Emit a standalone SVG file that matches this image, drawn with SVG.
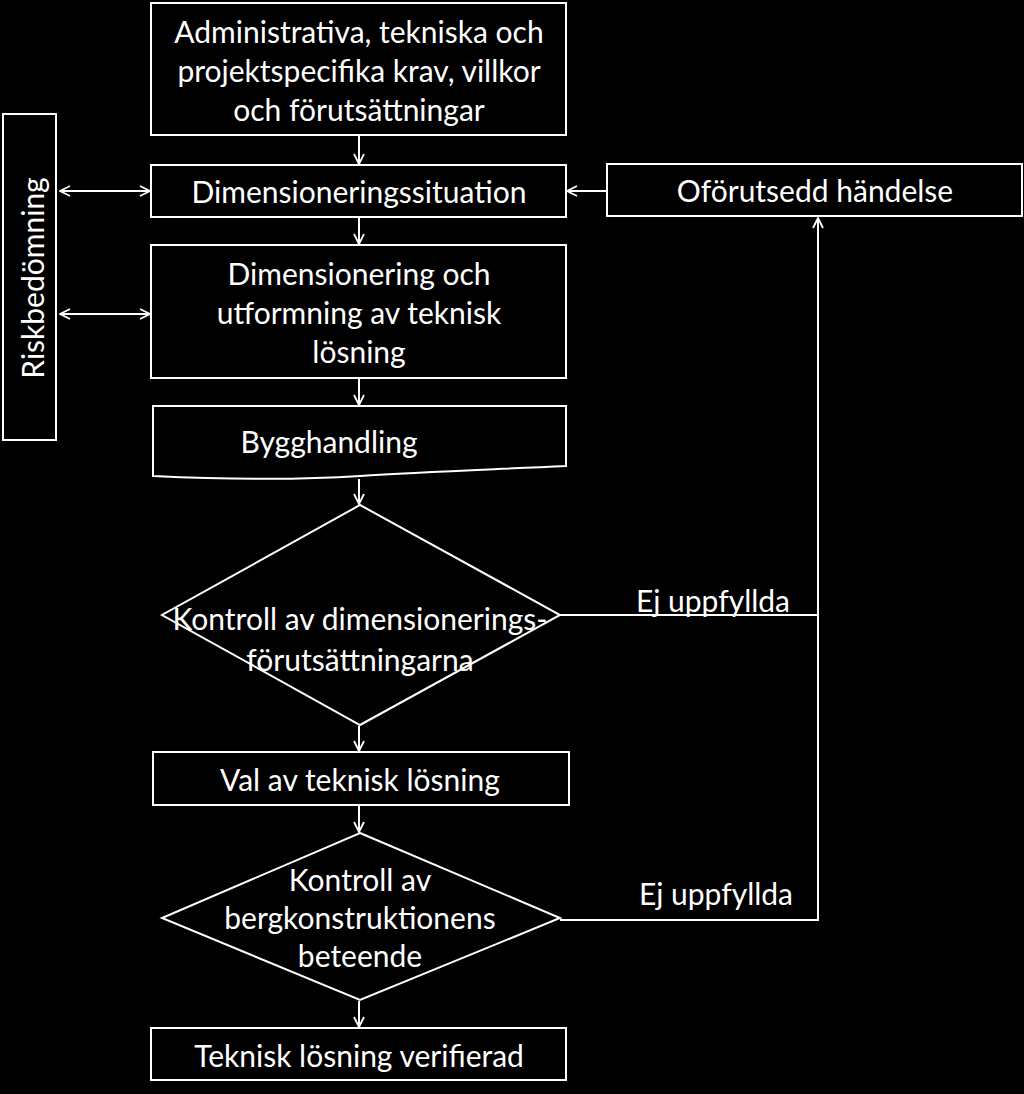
<svg xmlns="http://www.w3.org/2000/svg" width="1024" height="1094" viewBox="0 0 1024 1094">
<defs>
<marker id="arr" viewBox="0 0 12 12" refX="11" refY="6" markerWidth="12" markerHeight="12" markerUnits="userSpaceOnUse" orient="auto-start-reverse">
<path d="M1,1 L11,6 L1,11" fill="none" stroke="#fff" stroke-width="1.8"/>
</marker>
<style>
.box{fill:#000;stroke:#fff;stroke-width:2}
.t{fill:#fff;font-family:Lato,"Open Sans",sans-serif;font-size:30px;text-anchor:middle;dominant-baseline:central}
.c{fill:none;stroke:#fff;stroke-width:2}
</style>
</defs>
<rect width="1024" height="1094" fill="#000"/>
<g id="connectors">
<line class="c" x1="359" y1="136" x2="359" y2="164" marker-end="url(#arr)"/>
<line class="c" x1="359" y1="218" x2="359" y2="244" marker-end="url(#arr)"/>
<line class="c" x1="359" y1="379" x2="359" y2="405" marker-end="url(#arr)"/>
<line class="c" x1="359" y1="479" x2="359" y2="504" marker-end="url(#arr)"/>
<line class="c" x1="359" y1="726" x2="359" y2="751" marker-end="url(#arr)"/>
<line class="c" x1="359" y1="806" x2="359" y2="832" marker-end="url(#arr)"/>
<line class="c" x1="359" y1="1001" x2="359" y2="1027" marker-end="url(#arr)"/>
<line class="c" x1="60" y1="191" x2="150" y2="191" marker-start="url(#arr)" marker-end="url(#arr)"/>
<line class="c" x1="60" y1="314" x2="150" y2="314" marker-start="url(#arr)" marker-end="url(#arr)"/>
<line class="c" x1="607" y1="191" x2="567" y2="191" marker-end="url(#arr)"/>
<polyline class="c" points="560,615 818,615 818,218" marker-end="url(#arr)"/>
<polyline class="c" points="560,920 818,920 818,615"/>
<text class="t" x="713" y="600">Ej uppfyllda</text>
<text class="t" x="716" y="893">Ej uppfyllda</text>
</g>
<g id="n1">
<rect class="box" x="151" y="3" width="415" height="132"/>
<text class="t" x="359" y="31">Administrativa, tekniska och</text>
<text class="t" x="359" y="70">projektspecifika krav, villkor</text>
<text class="t" x="359" y="109">och förutsättningar</text>
</g>
<g id="n2">
<rect class="box" x="151" y="165" width="415" height="52"/>
<text class="t" x="359" y="191">Dimensioneringssituation</text>
</g>
<g id="n3">
<rect class="box" x="607" y="164" width="415" height="52"/>
<text class="t" x="815" y="190">Oförutsedd händelse</text>
</g>
<g id="n4">
<rect class="box" x="151" y="245" width="415" height="133"/>
<text class="t" x="359" y="273">Dimensionering och</text>
<text class="t" x="359" y="312">utformning av teknisk</text>
<text class="t" x="359" y="351">lösning</text>
</g>
<g id="n5">
<path class="box" d="M153,406 H566 V466 C480,470 420,472 360,476 C300,480 240,480 153,476 Z"/>
<text class="t" x="329" y="441">Bygghandling</text>
</g>
<g id="n6">
<polygon class="box" points="360,505 560,615 360,725 162,615"/>
<text class="t" x="360" y="618">Kontroll av dimensionerings-</text>
<text class="t" x="360" y="659">förutsättningarna</text>
</g>
<g id="n7">
<rect class="box" x="153" y="752" width="416" height="53"/>
<text class="t" x="360" y="779">Val av teknisk lösning</text>
</g>
<g id="n8">
<polygon class="box" points="360,833 560,918 360,1000 162,918"/>
<text class="t" x="360" y="879">Kontroll av</text>
<text class="t" x="360" y="917">bergkonstruktionens</text>
<text class="t" x="360" y="955">beteende</text>
</g>
<g id="n9">
<rect class="box" x="151" y="1028" width="415" height="52"/>
<text class="t" x="359" y="1055">Teknisk lösning verifierad</text>
</g>
<g id="n10">
<rect class="box" x="3" y="114" width="53" height="326"/>
<text class="t" x="0" y="0" transform="translate(32,278) rotate(-90)">Riskbedömning</text>
</g>
</svg>
